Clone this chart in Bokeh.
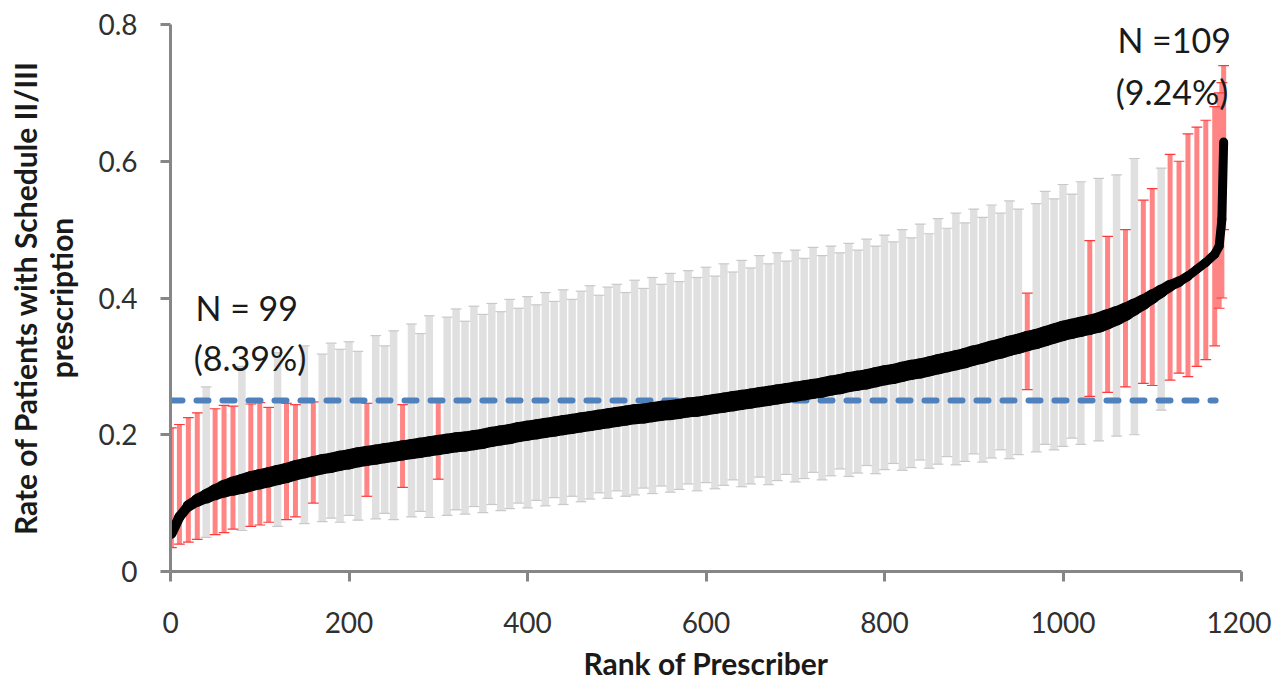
from bokeh.plotting import figure
from bokeh.models import Range1d, Label, FixedTicker, ColumnDataSource
from bokeh.embed import file_html
from bokeh.resources import INLINE

# ---------------- data ----------------
rank = [1] + list(range(10, 1171, 10)) + [1175, 1178, 1180]

rate = [0.055,
        0.080, 0.096, 0.104, 0.110, 0.116, 0.121, 0.125, 0.128, 0.132, 0.135,
        0.138, 0.141, 0.144, 0.148, 0.151, 0.154, 0.157, 0.159, 0.162, 0.164,
        0.167, 0.169, 0.171, 0.173, 0.175, 0.177, 0.179, 0.181, 0.183, 0.185,
        0.187, 0.189, 0.190, 0.192, 0.194, 0.197, 0.199, 0.201, 0.204, 0.206,
        0.208, 0.210, 0.212, 0.214, 0.216, 0.218, 0.220, 0.222, 0.224, 0.226,
        0.228, 0.230, 0.231, 0.233, 0.235, 0.236, 0.238, 0.240, 0.241, 0.243,
        0.245, 0.247, 0.249, 0.251, 0.253, 0.255, 0.257, 0.259, 0.261, 0.263,
        0.265, 0.267, 0.269, 0.272, 0.274, 0.277, 0.279, 0.281, 0.284, 0.287,
        0.289, 0.292, 0.295, 0.297, 0.300, 0.303, 0.306, 0.309, 0.312, 0.316,
        0.319, 0.323, 0.326, 0.330, 0.333, 0.337, 0.340, 0.344, 0.348, 0.352,
        0.355, 0.358, 0.361, 0.364, 0.369, 0.374, 0.380, 0.387, 0.394, 0.402,
        0.410, 0.418, 0.424, 0.432, 0.442, 0.452, 0.464,
        0.476, 0.515, 0.628]

lower = [0.035,
         0.040, 0.043, 0.047, 0.050, 0.054, 0.057, 0.062, 0.060, 0.066, 0.068,
         0.072, 0.066, 0.076, 0.080, 0.070, 0.100, 0.073, 0.078, 0.072, 0.082,
         0.075, 0.110, 0.077, 0.085, 0.076, 0.123, 0.080, 0.088, 0.079, 0.135,
         0.082, 0.090, 0.084, 0.095, 0.086, 0.098, 0.089, 0.092, 0.100, 0.093,
         0.104, 0.096, 0.108, 0.098, 0.110, 0.102, 0.106, 0.115, 0.107, 0.118,
         0.110, 0.112, 0.122, 0.114, 0.125, 0.116, 0.120, 0.128, 0.118, 0.130,
         0.121, 0.126, 0.134, 0.124, 0.128, 0.138, 0.127, 0.133, 0.142, 0.131,
         0.136, 0.145, 0.134, 0.140, 0.150, 0.139, 0.144, 0.155, 0.143, 0.149,
         0.158, 0.148, 0.152, 0.163, 0.151, 0.157, 0.168, 0.156, 0.161, 0.172,
         0.160, 0.166, 0.178, 0.165, 0.171, 0.266, 0.175, 0.186, 0.178, 0.183,
         0.195, 0.186, 0.256, 0.191, 0.262, 0.198, 0.270, 0.200, 0.275, 0.272,
         0.236, 0.280, 0.290, 0.285, 0.300, 0.310, 0.330,
         0.385, 0.400, 0.500]

upper = [0.210,
         0.215, 0.225, 0.232, 0.270, 0.238, 0.243, 0.242, 0.300, 0.245, 0.247,
         0.240, 0.320, 0.246, 0.244, 0.330, 0.248, 0.318, 0.334, 0.325, 0.336,
         0.322, 0.246, 0.345, 0.330, 0.352, 0.244, 0.362, 0.348, 0.374, 0.249,
         0.372, 0.384, 0.366, 0.388, 0.376, 0.392, 0.380, 0.398, 0.385, 0.402,
         0.390, 0.408, 0.395, 0.412, 0.398, 0.410, 0.418, 0.404, 0.416, 0.420,
         0.408, 0.426, 0.414, 0.430, 0.420, 0.436, 0.424, 0.440, 0.430, 0.445,
         0.432, 0.450, 0.438, 0.455, 0.444, 0.462, 0.450, 0.466, 0.454, 0.470,
         0.458, 0.474, 0.462, 0.476, 0.466, 0.480, 0.470, 0.486, 0.476, 0.492,
         0.482, 0.500, 0.488, 0.508, 0.494, 0.516, 0.502, 0.524, 0.510, 0.530,
         0.518, 0.536, 0.524, 0.542, 0.530, 0.407, 0.538, 0.556, 0.545, 0.566,
         0.552, 0.570, 0.484, 0.575, 0.490, 0.580, 0.500, 0.604, 0.543, 0.560,
         0.590, 0.610, 0.600, 0.640, 0.650, 0.660, 0.680,
         0.700, 0.715, 0.740]

threshold = 0.25
threshold_span = [0, 1171]          # extent of the dashed reference line (ranks)

x_ticks = [0, 200, 400, 600, 800, 1000, 1200]
y_ticks = [0, 0.2, 0.4, 0.6, 0.8]
y_tick_labels = ["0", "0.2", "0.4", "0.6", "0.8"]

x_title = "Rank of Prescriber"
y_title = "Rate of Patients with Schedule II/III\nprescription"
note_low = ["N = 99", "(8.39%)"]
note_high = ["N =109", "(9.24%)"]
note_low_pos = (28, 0.386, 26, 0.313)
note_high_pos = (1061, 0.778, 1059, 0.702)

# ---------------- figure ----------------
FONT = "Lato"
W, H = 1271, 683
p = figure(width=W, height=H, output_backend="svg", toolbar_location=None,
           x_range=Range1d(0, 1200), y_range=Range1d(0, 0.8),
           min_border_left=170, min_border_right=30,
           min_border_top=24, min_border_bottom=112)
p.background_fill_color = "white"
p.border_fill_color = "white"
p.outline_line_color = None
p.xgrid.visible = False
p.ygrid.visible = False

# split into red (CI excludes threshold) and gray bars
def split(flag):
    idx = [i for i in range(len(rank)) if flag(i)]
    return ColumnDataSource(dict(
        x=[rank[i] for i in idx], lo=[lower[i] for i in idx], hi=[upper[i] for i in idx],
        cl=[rank[i] - 6 for i in idx], cr=[rank[i] + 6 for i in idx]))

is_red = lambda i: upper[i] < threshold or lower[i] > threshold
gray_src = split(lambda i: not is_red(i))
red_src = split(is_red)

# gray error bars
p.segment(x0="x", y0="lo", x1="x", y1="hi", source=gray_src, line_color="#e0e0e0", line_width=7.5)
p.segment(x0="cl", y0="lo", x1="cr", y1="lo", source=gray_src, line_color="#c9c9c9", line_width=1.2)
p.segment(x0="cl", y0="hi", x1="cr", y1="hi", source=gray_src, line_color="#c9c9c9", line_width=1.2)

# red error bars
p.segment(x0="x", y0="lo", x1="x", y1="hi", source=red_src, line_color="#ff8585", line_width=5)
p.segment(x0="cl", y0="lo", x1="cr", y1="lo", source=red_src, line_color="#ff3a3a", line_width=1.2)
p.segment(x0="cl", y0="hi", x1="cr", y1="hi", source=red_src, line_color="#ff3a3a", line_width=1.2)

# dashed threshold line
p.line(threshold_span, [threshold, threshold], line_color="#4f81bd", line_width=6,
       line_dash="12 14", line_cap="round")

# black rate curve, drawn as segments so the band can be thicker in the dense middle
def band_width(r):
    if r < 15:
        return 10
    if r < 80:
        return 10 + (r - 15) / 65 * 10
    if r < 1050:
        return 20
    if r < 1140:
        return 20 - (r - 1050) / 90 * 11
    return 9

mid = [(rank[i] + rank[i + 1]) / 2 for i in range(len(rank) - 1)]
curve_src = ColumnDataSource(dict(x0=rank[:-1], y0=rate[:-1], x1=rank[1:], y1=rate[1:],
                                  w=[band_width(m) for m in mid]))
p.segment(x0="x0", y0="y0", x1="x1", y1="y1", source=curve_src, line_color="black",
          line_width="w", line_cap="round")

# ---------------- axes ----------------
AX = "#868686"
for ax in (p.xaxis[0], p.yaxis[0]):
    ax.axis_line_color = AX
    ax.axis_line_width = 3
    ax.major_tick_line_color = AX
    ax.major_tick_line_width = 3
    ax.major_tick_out = 10
    ax.major_tick_in = 0
    ax.minor_tick_line_color = None
    ax.major_label_text_font = FONT
    ax.major_label_text_font_size = "28px"
    ax.major_label_text_color = "#303030"
    ax.axis_label_text_font = FONT
    ax.axis_label_text_font_style = "bold"
    ax.axis_label_text_color = "#1a1a1a"
    ax.axis_label_text_font_size = "30px"

p.xaxis.ticker = FixedTicker(ticks=x_ticks)
p.yaxis.ticker = FixedTicker(ticks=y_ticks)
p.yaxis.major_label_overrides = {t: s for t, s in zip(y_ticks, y_tick_labels)}
p.xaxis.major_label_standoff = 30
p.yaxis.major_label_standoff = 23

p.xaxis.axis_label = x_title
p.xaxis.axis_label_standoff = 9

p.yaxis.axis_label = y_title
p.yaxis.axis_label_standoff = 16
p.yaxis.axis_label_text_line_height = 1.0

# annotations
for (txt, (xa, ya, xb, yb)) in ((note_low, note_low_pos), (note_high, note_high_pos)):
    p.add_layout(Label(x=xa, y=ya, text=txt[0], text_font=FONT, text_font_size="34px",
                       text_color="#1a1a1a", text_align="left", text_baseline="alphabetic"))
    p.add_layout(Label(x=xb, y=yb, text=txt[1], text_font=FONT, text_font_size="34px",
                       text_color="#1a1a1a", text_align="left", text_baseline="alphabetic"))

open("out.html", "w").write(file_html(p, INLINE))
